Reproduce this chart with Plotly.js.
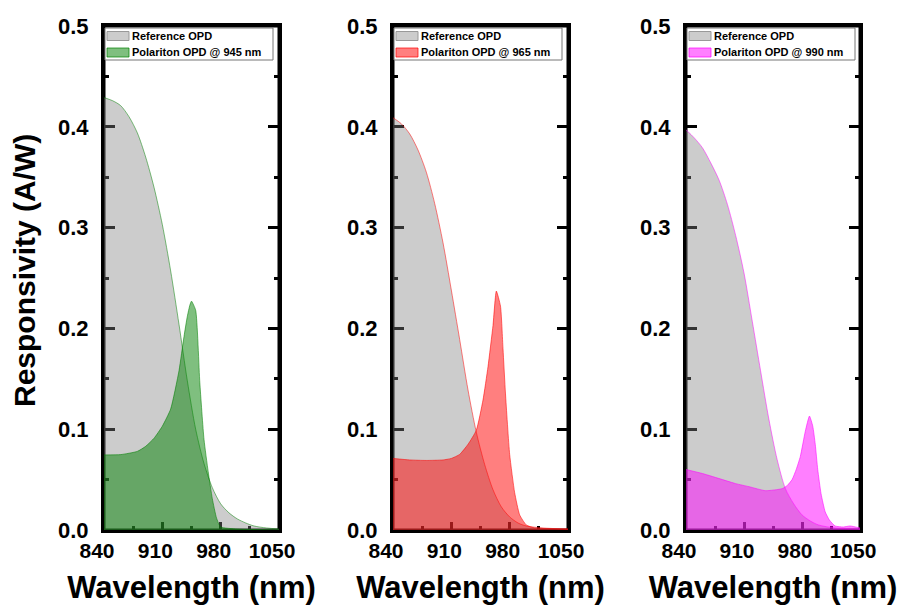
<!DOCTYPE html>
<html>
<head>
<meta charset="utf-8">
<script src="https://cdn.plot.ly/plotly-3.0.1.min.js"></script>
<style>html,body{margin:0;padding:0;background:#fff;}#chart{width:912px;height:609px;}</style>
</head>
<body>
<div id="chart"></div>
<script>
// ---- data ----
const xTickVals = [840, 910, 980, 1050];
const xMinorVals = [875, 945, 1015];
const seriesNames = ["Reference OPD", "Polariton OPD @ 945 nm", "Polariton OPD @ 965 nm", "Polariton OPD @ 990 nm"];

const ref1X = [840, 850, 860, 870, 880, 890, 900, 910, 920, 930, 940, 950, 960, 970, 980, 990, 1000, 1010, 1020, 1035, 1050];
const ref1Y = [0.429, 0.426, 0.421, 0.410, 0.394, 0.370, 0.340, 0.303, 0.257, 0.204, 0.148, 0.100, 0.066, 0.042, 0.026, 0.017, 0.011, 0.007, 0.004, 0.002, 0.001];
const pol1X = [840, 860, 880, 890, 900, 910, 920, 930, 936, 940, 943, 945, 950, 955, 960, 965, 970, 975, 980, 1000, 1050];
const pol1Y = [0.0745, 0.0748, 0.078, 0.083, 0.091, 0.103, 0.120, 0.158, 0.192, 0.212, 0.223, 0.227, 0.218, 0.146, 0.090, 0.058, 0.031, 0.012, 0.003, 0.001, 0.0];

const ref2X = [840, 850, 860, 870, 880, 890, 900, 910, 920, 930, 940, 950, 960, 970, 980, 990, 1000, 1020, 1050];
const ref2Y = [0.409, 0.403, 0.393, 0.377, 0.355, 0.324, 0.285, 0.238, 0.189, 0.139, 0.097, 0.065, 0.040, 0.023, 0.013, 0.007, 0.004, 0.002, 0.001];
const pol2X = [840, 860, 880, 900, 910, 920, 930, 940, 948, 954, 960, 964, 969, 972, 975, 980, 986, 992, 1000, 1010, 1050];
const pol2Y = [0.071, 0.0695, 0.069, 0.0695, 0.071, 0.075, 0.085, 0.099, 0.129, 0.162, 0.203, 0.237, 0.222, 0.180, 0.135, 0.075, 0.037, 0.015, 0.005, 0.002, 0.001];

const ref3X = [840, 850, 860, 870, 880, 890, 900, 910, 920, 930, 940, 950, 960, 970, 980, 990, 1000, 1020, 1050];
const ref3Y = [0.397, 0.389, 0.379, 0.364, 0.347, 0.323, 0.292, 0.255, 0.207, 0.158, 0.110, 0.070, 0.041, 0.026, 0.015, 0.009, 0.005, 0.002, 0.001];
const pol3X = [840, 860, 884, 900, 916, 936, 956, 962, 968, 973, 978, 984, 989, 993, 996, 999, 1003, 1008, 1013, 1020, 1030, 1038, 1050];
const pol3Y = [0.060, 0.056, 0.050, 0.046, 0.043, 0.039, 0.041, 0.044, 0.050, 0.060, 0.073, 0.098, 0.113, 0.103, 0.085, 0.060, 0.036, 0.018, 0.010, 0.004, 0.003, 0.004, 0.002];

// ---- styling ----
const FONT = "Liberation Sans, Arial, Helvetica, sans-serif";
const W = 912, H = 609;
const panels = [
  {refX: ref1X, refY: ref1Y, polX: pol1X, polY: pol1Y, name: seriesNames[1], rgb: "0,128,0",   x0: 104, x1: 279},
  {refX: ref2X, refY: ref2Y, polX: pol2X, polY: pol2Y, name: seriesNames[2], rgb: "255,0,0",   x0: 393, x1: 568},
  {refX: ref3X, refY: ref3Y, polX: pol3X, polY: pol3Y, name: seriesNames[3], rgb: "255,0,255", x0: 686, x1: 860}
];
const yTop = 26, yBot = 530;
const yDomain = [(H - yBot) / H, (H - yTop) / H];
const px = v => v / W;
const py = v => (H - v) / H;

const data = [];
const layout = {
  width: W, height: H,
  margin: {l: 0, r: 0, t: 0, b: 0},
  paper_bgcolor: "#fff", plot_bgcolor: "rgba(0,0,0,0)",
  font: {family: FONT, color: "#000"},
  showlegend: false,
  annotations: [], shapes: []
};

panels.forEach((p, i) => {
  const n = i === 0 ? "" : String(i + 1);
  const xa = "x" + n, ya = "y" + n;
  data.push({
    x: p.refX, y: p.refY, xaxis: xa, yaxis: ya,
    type: "scatter", mode: "lines", name: seriesNames[0],
    fill: "tozeroy", fillcolor: "rgba(128,128,128,0.4)",
    line: {color: "rgba(128,128,128,0)", width: 0.5, shape: "spline", smoothing: 0.8}
  });
  data.push({
    x: p.polX, y: p.polY, xaxis: xa, yaxis: ya,
    type: "scatter", mode: "lines", name: p.name,
    fill: "tozeroy", fillcolor: "rgba(" + p.rgb + ",0.5)",
    line: {color: "rgba(" + p.rgb + ",0.55)", width: 1, shape: "spline", smoothing: 0.5}
  });
  data.push({
    x: p.refX, y: p.refY, xaxis: xa, yaxis: ya, hoverinfo: "skip",
    type: "scatter", mode: "lines", name: seriesNames[0] + " outline",
    line: {color: "rgba(" + p.rgb + ",0.5)", width: 1, shape: "spline", smoothing: 0.8}
  });

  layout["xaxis" + n] = {
    domain: [p.x0 / W, p.x1 / W], anchor: ya,
    range: [840, 1050], tickmode: "array", tickvals: xTickVals,
    ticks: "inside", ticklen: 8, tickwidth: 3, tickcolor: "#000",
    minor: {tickmode: "array", tickvals: xMinorVals, ticks: "inside", ticklen: 4, tickwidth: 3, tickcolor: "#000"},
    showline: true, linewidth: 3, linecolor: "#000", mirror: true,
    showgrid: false, zeroline: false, layer: "below traces",
    tickfont: {family: FONT, size: 21, weight: "bold", color: "#000"},
    ticklabelshift: -7,
    title: {text: "Wavelength (nm)", font: {family: FONT, size: 31, weight: "bold", color: "#000"}, standoff: 16}
  };
  layout["yaxis" + n] = {
    domain: yDomain, anchor: xa,
    range: [0, 0.5], dtick: 0.1, tick0: 0, tickformat: ".1f",
    ticks: "inside", ticklen: 11, tickwidth: 3, tickcolor: "#000",
    minor: {dtick: 0.05, ticks: "inside", ticklen: 5, tickwidth: 3, tickcolor: "#000"},
    showline: true, linewidth: 3, linecolor: "#000", mirror: "ticks",
    showgrid: false, zeroline: false, layer: "below traces",
    tickfont: {family: FONT, size: 22, weight: "bold", color: "#000"},
    ticklabelstandoff: 8
  };

  // plot frame (under the translucent fills, like the original)
  layout.shapes.push({type: "rect", xref: xa + " domain", yref: ya + " domain", x0: 0, x1: 1, y0: 0, y1: 1,
    line: {color: "#000", width: 3}, fillcolor: "rgba(0,0,0,0)", layer: "below"});

  // legend box (drawn manually to match the compact original legend)
  const lx0 = p.x0 + 1, lx1 = p.x0 + 169, ly0 = 28, ly1 = 60;
  layout.shapes.push({type: "rect", xref: "paper", yref: "paper", x0: px(lx0), x1: px(lx1), y0: py(ly1), y1: py(ly0),
    fillcolor: "#fff", line: {color: "#777", width: 1}, layer: "above"});
  const rows = [
    {y: 36, fill: "rgb(204,204,204)", edge: "#999", text: seriesNames[0]},
    {y: 52.5, fill: "rgba(" + p.rgb + ",0.5)", edge: "rgba(" + p.rgb + ",0.7)", text: p.name}
  ];
  rows.forEach(r => {
    layout.shapes.push({type: "rect", xref: "paper", yref: "paper",
      x0: px(lx0 + 2), x1: px(lx0 + 24), y0: py(r.y + 4.5), y1: py(r.y - 4.5),
      fillcolor: r.fill, line: {color: r.edge, width: 1}, layer: "above"});
    layout.annotations.push({xref: "paper", yref: "paper", x: px(lx0 + 25), y: py(r.y),
      xanchor: "left", yanchor: "middle", showarrow: false, text: r.text,
      font: {family: FONT, size: 11, weight: "bold", color: "#000"}});
  });
});

layout.annotations.push({
  xref: "paper", yref: "paper", x: 24 / W, y: (H - 271) / H,
  xanchor: "center", yanchor: "middle", textangle: -90, showarrow: false,
  text: "Responsivity (A/W)", font: {family: FONT, size: 30, weight: "bold", color: "#000"}
});

Plotly.newPlot("chart", data, layout, {displayModeBar: false, staticPlot: true});
</script>
</body>
</html>
